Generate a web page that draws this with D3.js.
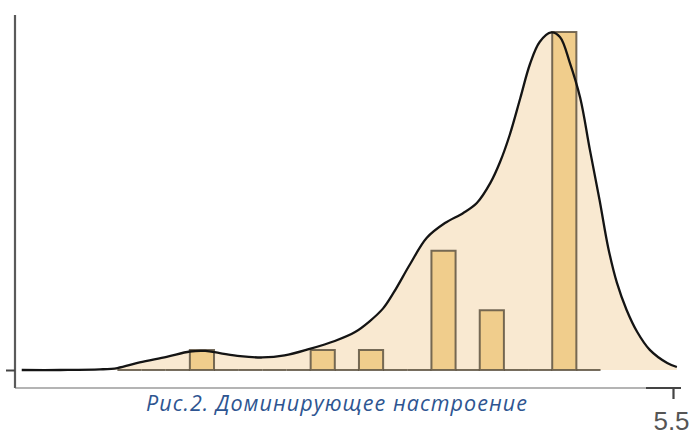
<!DOCTYPE html>
<html><head><meta charset="utf-8">
<script src="https://cdn.jsdelivr.net/npm/d3@7"></script>
<style>body{margin:0;background:#fff}svg{display:block}</style>
</head><body>
<svg id="c" width="693" height="435"></svg>
<script>
// Histogram bins (start of each 0.25-wide bin) and counts
const binStarts = [-0.25,0,0.25,0.5,0.75,1,1.25,1.5,1.75,2,2.25,2.5,2.75,3,3.25,3.5,3.75,4,4.25,4.5];
const binCounts = [0,0,0,1,0,0,0,0,1,0,1,0,0,6,0,3,0,0,17,0];
const binWidth = 0.25;
// Density curve (scaled to counts)
const densX = [-1.24,-0.84,-0.43,-0.25,-0.02,0.26,0.50,0.66,0.81,1.02,1.25,1.48,1.74,2.00,2.21,2.36,2.50,2.61,2.78,2.95,3.14,3.33,3.47,3.61,3.71,3.81,3.92,4.02,4.12,4.24,4.33,4.43,4.54,4.64,4.74,4.83,4.92,5.02,5.13,5.26,5.44,5.54];
const densY = [0,0,0.03,0.10,0.38,0.66,0.93,0.96,0.85,0.70,0.63,0.73,1.06,1.46,1.91,2.45,3.10,3.90,5.33,6.64,7.39,7.90,8.40,9.41,10.46,11.82,13.68,15.39,16.50,16.98,16.75,15.49,13.68,11.07,8.55,6.14,4.38,3.02,1.91,1.01,0.35,0.15];
const xTicks = [5.5];
const xTickLabels = ["5.5"];
const caption = "Рис.2. Доминирующее настроение";

const svg = d3.select("#c");
const x = d3.scaleLinear().domain([-1.32, 5.5]).range([14, 673]);
const y = d3.scaleLinear().domain([0, 17]).range([370, 32]);

const dens = densX.map((v,i)=>[v, densY[i]]);
const curve = d3.curveCatmullRom.alpha(0.5);

// density fill
svg.append("path")
  .datum(dens)
  .attr("fill", "#f9e9d1")
  .attr("d", d3.area().x(d=>x(d[0])).y0(y(0)).y1(d=>y(d[1])).curve(curve));

// histogram
svg.append("g").selectAll("path").data(binStarts.map((s,i)=>({s, c: binCounts[i]})))
  .join("path")
  .attr("fill", "#f0cd8c")
  .attr("stroke", "#5e5442")
  .attr("stroke-opacity", 0.85)
  .attr("stroke-width", 2)
  .attr("d", d => `M${x(d.s)},${y(0)}V${y(d.c)}H${x(d.s+binWidth)}V${y(0)}Z`);

// density line
svg.append("path")
  .datum(dens)
  .attr("fill", "none")
  .attr("stroke", "#141414")
  .attr("stroke-width", 2.3)
  .attr("d", d3.line().x(d=>x(d[0])).y(d=>y(d[1])).curve(curve));

// y axis
const yAxis = svg.append("g").attr("transform", "translate(15,0)")
  .call(d3.axisLeft(y).tickValues([0]).tickFormat("").tickSize(9).tickSizeOuter(0));
yAxis.select(".domain").attr("d", "M0,15V388").attr("stroke", "#5a5a5a").attr("stroke-width", 2.2);
yAxis.selectAll(".tick line").attr("stroke", "#444").attr("stroke-width", 2);

// x axis
const xAxis = svg.append("g").attr("transform", "translate(0,388)")
  .call(d3.axisBottom(x).tickValues(xTicks).tickFormat((d,i)=>xTickLabels[i]).tickSize(11).tickSizeOuter(0).tickPadding(13));
xAxis.select(".domain").attr("d", `M15,0H${x(5.5)-27}`).attr("stroke", "#6a6a6a").attr("stroke-width", 1.2);
xAxis.append("line").attr("x1", x(5.5)-27).attr("x2", x(5.5)+8).attr("y1", 0).attr("y2", 0)
  .attr("stroke", "#444").attr("stroke-width", 2.2);
xAxis.selectAll(".tick line").attr("stroke", "#444").attr("stroke-width", 2.2);
xAxis.selectAll(".tick text").attr("fill", "#555").attr("font-family", "Liberation Sans, Arial, sans-serif")
  .attr("font-size", 26).attr("dx", -2);

// caption
svg.append("text").attr("x", 146).attr("y", 411)
  .attr("font-family", "Open Sans, sans-serif").attr("font-style", "italic")
  .attr("font-size", 21.5).attr("fill", "#2e5591")
  .attr("textLength", 381).attr("lengthAdjust", "spacing")
  .text(caption);
</script>
</body></html>
